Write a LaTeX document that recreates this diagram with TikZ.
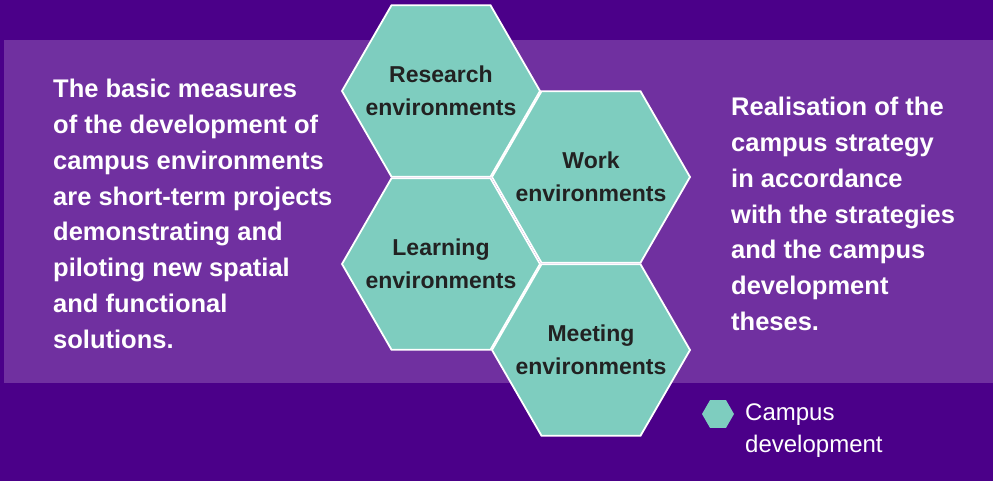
\documentclass[tikz,border=0pt]{standalone}
\usepackage{fontspec}
\setmainfont{Liberation Sans}
\usepackage{xcolor}
\usepackage{tikz}
\usetikzlibrary{positioning,shapes}

\definecolor{bgdark}{HTML}{4B0089}
\definecolor{bgband}{HTML}{7030A0}
\definecolor{hexfill}{HTML}{7ECDBF}
\definecolor{hextext}{HTML}{222222}

\begin{document}
\begin{tikzpicture}[x=1pt,y=-1pt,
    hexa/.style={regular polygon,regular polygon sides=6,minimum size=198pt,inner sep=0pt,
      fill=hexfill,draw=white,line width=1.8pt},
    hexlabel/.style={text=hextext,align=center,inner sep=0pt,
      font=\fontsize{23}{33.5}\selectfont\bfseries},
    prose/.style={text=white,align=left,anchor=north west,inner sep=0pt,
      font=\fontsize{25.5}{35.8}\selectfont\bfseries}]
  \useasboundingbox (0,0) rectangle (993,481);
  \fill [bgdark] (0,0) rectangle (993,481);
  \fill [bgband] (4,40) rectangle (993,383);
  \node [prose] (measures) at (53,79) {The basic measures\\of the development of\\campus environments\\are short-term projects\\demonstrating and\\piloting new spatial\\and functional\\solutions.};
  \node [hexa] (research) at (441,91) {};
  \node [hexa] (work) at (591,177) {};
  \node [hexa] (learning) at (441,264) {};
  \node [hexa] (meeting) at (591,350) {};
  \node [hexlabel] (researchtext) at (research) {Research\\environments};
  \node [hexlabel] (worktext) at (work) {Work\\environments};
  \node [hexlabel] (learningtext) at (learning) {Learning\\environments};
  \node [hexlabel] (meetingtext) at (meeting) {Meeting\\environments};
  \node [prose] (strategy) at (731,97) {Realisation of the\\campus strategy\\in accordance\\with the strategies\\and the campus\\development\\theses.};
  \node [regular polygon,regular polygon sides=6,minimum size=32pt,inner sep=0pt,fill=hexfill] (key) at (718,414) {};
  \node [text=white,align=left,anchor=north west,inner sep=0pt,font=\fontsize{24}{32}\selectfont]
    (keylabel) at (745,404) {Campus\\development};
\end{tikzpicture}
\end{document}
